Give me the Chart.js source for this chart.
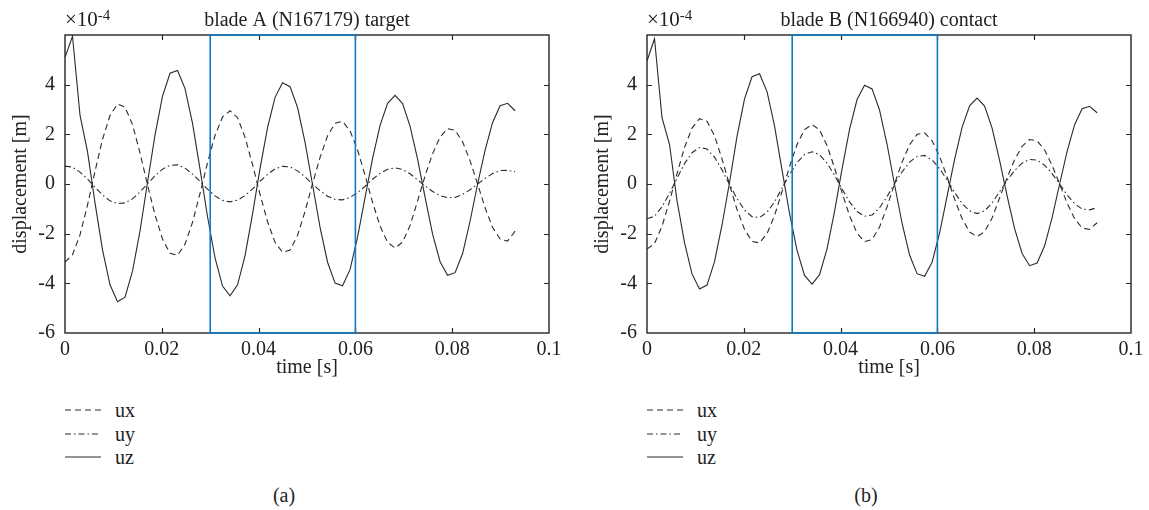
<!DOCTYPE html>
<html><head><meta charset="utf-8">
<script src="https://cdn.jsdelivr.net/npm/chart.js@4.4.1/dist/chart.umd.min.js"></script>
<style>
body{margin:0;background:#fff;width:1149px;height:510px;position:relative;overflow:hidden;font-family:"Liberation Serif","Times New Roman",serif;color:#222}
.wrap{position:absolute;top:0;width:575px;height:380px}
.row{position:absolute;height:24px;width:120px;font-size:20px;line-height:24px}
.row svg{position:absolute;left:0;top:10px}
.row span{position:absolute;left:50px;top:0}
.cap{position:absolute;font-size:20px;line-height:24px;transform:translateX(-50%)}
</style></head><body>
<div class="wrap" style="left:0"><canvas id="ca"></canvas></div>
<div class="wrap" style="left:582px"><canvas id="cb"></canvas></div>
<div id="legends"></div>
<div class="cap" style="left:284px;top:483px">(a)</div>
<div class="cap" style="left:866px;top:483px">(b)</div>
<script>
// ---- data (values ×10^-4 m) ----
const time = [0,0.00155,0.0031,0.00465,0.0062,0.00775,0.0093,0.01085,0.0124,0.01395,0.0155,0.01705,0.0186,0.02015,0.0217,0.02325,0.0248,0.02635,0.0279,0.02945,0.031,0.03255,0.0341,0.03565,0.0372,0.03875,0.0403,0.04185,0.0434,0.04495,0.0465,0.04805,0.0496,0.05115,0.0527,0.05425,0.0558,0.05735,0.0589,0.06045,0.062,0.06355,0.0651,0.06665,0.0682,0.06975,0.0713,0.07285,0.0744,0.07595,0.0775,0.07905,0.0806,0.08215,0.0837,0.08525,0.0868,0.08835,0.0899,0.09145,0.093];

const uxA = [-3.15,-2.85,-2.05,-0.85,0.51,1.80,2.76,3.22,3.10,2.39,1.25,-0.04,-1.24,-2.22,-2.79,-2.87,-2.42,-1.54,-0.38,0.86,1.96,2.70,2.95,2.67,1.88,0.78,-0.42,-1.52,-2.35,-2.75,-2.66,-2.07,-1.10,0.02,1.07,1.94,2.45,2.52,2.14,1.37,0.35,-0.74,-1.70,-2.35,-2.58,-2.34,-1.67,-0.68,0.33,1.22,1.89,2.23,2.16,1.70,0.93,0.00,-0.96,-1.75,-2.22,-2.30,-1.90];
const uyA = [0.72,0.68,0.48,0.20,-0.13,-0.44,-0.68,-0.79,-0.76,-0.60,-0.32,0.01,0.33,0.60,0.75,0.77,0.64,0.40,0.10,-0.21,-0.48,-0.66,-0.72,-0.65,-0.47,-0.20,0.11,0.39,0.61,0.71,0.69,0.53,0.29,-0.01,-0.27,-0.49,-0.62,-0.64,-0.54,-0.35,-0.09,0.19,0.43,0.59,0.65,0.59,0.41,0.17,-0.08,-0.30,-0.47,-0.55,-0.54,-0.42,-0.23,0.00,0.23,0.42,0.54,0.55,0.50];
const uzA = [5.10,5.95,2.77,1.30,-0.76,-2.65,-4.06,-4.74,-4.56,-3.51,-1.89,0.06,1.98,3.54,4.46,4.57,3.84,2.44,0.60,-1.32,-2.98,-4.11,-4.50,-4.06,-2.88,-1.20,0.63,2.27,3.49,4.08,3.92,3.08,1.68,-0.03,-1.75,-3.15,-3.99,-4.10,-3.44,-2.14,-0.54,1.03,2.36,3.25,3.57,3.24,2.32,1.00,-0.54,-2.02,-3.13,-3.68,-3.57,-2.80,-1.49,0.00,1.36,2.48,3.15,3.25,2.95];

const uxB = [-2.62,-2.40,-1.70,-0.70,0.42,1.47,2.25,2.63,2.53,1.94,1.01,-0.03,-1.03,-1.83,-2.31,-2.37,-2.00,-1.27,-0.31,0.70,1.59,2.19,2.40,2.17,1.55,0.65,-0.35,-1.28,-1.98,-2.32,-2.24,-1.73,-0.92,0.01,0.88,1.58,2.00,2.06,1.74,1.11,0.29,-0.61,-1.39,-1.93,-2.12,-1.92,-1.37,-0.56,0.26,0.98,1.52,1.79,1.74,1.37,0.75,0.00,-0.77,-1.40,-1.77,-1.83,-1.56];
const uyB = [-1.40,-1.30,-0.92,-0.38,0.23,0.82,1.26,1.47,1.41,1.08,0.57,-0.02,-0.59,-1.05,-1.32,-1.35,-1.14,-0.72,-0.17,0.38,0.86,1.19,1.30,1.18,0.84,0.35,-0.20,-0.72,-1.11,-1.30,-1.25,-0.96,-0.51,0.01,0.49,0.88,1.11,1.15,0.97,0.62,0.16,-0.34,-0.78,-1.08,-1.19,-1.08,-0.76,-0.31,0.15,0.54,0.84,0.99,0.96,0.76,0.42,0.00,-0.44,-0.79,-1.01,-1.04,-0.95];
const uzB = [4.95,5.85,2.67,1.60,-0.67,-2.36,-3.62,-4.23,-4.07,-3.13,-1.65,0.06,1.92,3.43,4.32,4.44,3.72,2.34,0.56,-1.18,-2.67,-3.68,-4.03,-3.65,-2.61,-1.10,0.61,2.20,3.40,3.98,3.83,2.97,1.60,-0.03,-1.58,-2.86,-3.61,-3.72,-3.15,-1.98,-0.50,0.99,2.28,3.15,3.46,3.14,2.25,0.95,-0.48,-1.80,-2.80,-3.29,-3.18,-2.49,-1.35,0.00,1.31,2.39,3.03,3.13,2.87];

const seriesNames = ['ux','uy','uz'];
const xTicks = [0,0.02,0.04,0.06,0.08,0.1];
const yTicks = [-6,-4,-2,0,2,4];
const xRange = [0,0.1];
const yRange = [-6,6];
const windowRange = [0.03,0.06];
const titles = ['blade A (N167179) target','blade B (N166940) contact'];

// ---- styling ----
const FONT = '"Liberation Serif","Times New Roman",serif';
const INK = '#222';
const LINE = '#2a2a2a';
const dashes = [[6,4],[6,3,1.5,3],[]];

const framePlugin = {
  id:'frame',
  afterDatasetsDraw(chart, args, opts){
    const ctx = chart.ctx, a = chart.chartArea, x = chart.scales.x, y = chart.scales.y;
    ctx.save();
    ctx.strokeStyle = '#262626'; ctx.lineWidth = 1.4; ctx.setLineDash([]);
    ctx.strokeRect(a.left, a.top, a.right - a.left, a.bottom - a.top);
    ctx.lineWidth = 1.2;
    ctx.beginPath();
    xTicks.forEach(v => {
      if (v <= xRange[0] || v >= xRange[1]) return;
      const p = Math.round(x.getPixelForValue(v)) + 0.5;
      ctx.moveTo(p, a.bottom); ctx.lineTo(p, a.bottom - 5);
      ctx.moveTo(p, a.top); ctx.lineTo(p, a.top + 5);
    });
    yTicks.forEach(v => {
      if (v <= yRange[0] || v >= yRange[1]) return;
      const p = Math.round(y.getPixelForValue(v)) + 0.5;
      ctx.moveTo(a.left, p); ctx.lineTo(a.left + 5, p);
      ctx.moveTo(a.right, p); ctx.lineTo(a.right - 5, p);
    });
    ctx.stroke();
    // highlighted window
    const x0 = x.getPixelForValue(windowRange[0]), x1 = x.getPixelForValue(windowRange[1]);
    ctx.strokeStyle = '#0f7bc4'; ctx.lineWidth = 1.6;
    ctx.strokeRect(x0, a.top, x1 - x0, a.bottom - a.top);
    // title & exponent
    ctx.fillStyle = INK; ctx.textBaseline = 'alphabetic';
    ctx.font = '20px ' + FONT; ctx.textAlign = 'center';
    ctx.fillText(opts.title, (a.left + a.right) / 2, 26);
    ctx.textAlign = 'left';
    ctx.font = '21px ' + FONT;
    ctx.fillText('\u00d710', a.left, 26);
    const w = ctx.measureText('\u00d710').width;
    ctx.font = '15px ' + FONT;
    ctx.fillText('-4', a.left + w, 20);
    ctx.restore();
  }
};

function pts(arr){ return time.map((t,i)=>({x:t, y:arr[i]})); }

function makeChart(id, series, title){
  return new Chart(document.getElementById(id), {
    type:'line',
    data:{datasets: series.map((s,i)=>({
      label: seriesNames[i], data: pts(s), borderColor: LINE, borderWidth: 1.1,
      borderDash: dashes[i], pointRadius: 0, tension: 0, fill: false
    }))},
    options:{
      responsive:true, maintainAspectRatio:false, animation:false,
      layout:{padding:{top:35,right:26,left:0,bottom:0}},
      plugins:{legend:{display:false}, tooltip:{enabled:false}, frame:{title}},
      scales:{
        x:{type:'linear', min:xRange[0], max:xRange[1],
           grid:{display:false, drawTicks:false}, border:{display:false},
           afterBuildTicks: s => { s.ticks = xTicks.map(v=>({value:v})); },
           afterFit: s => { s.height = 47; },
           ticks:{padding:5, color:INK, font:{family:FONT, size:20}, maxRotation:0, autoSkip:false,
                  callback: v => (v === 0 ? '0' : String(v))},
           title:{display:true, text:'time [s]', color:INK, font:{family:FONT, size:20}, padding:{top:0,bottom:0}}},
        y:{type:'linear', min:yRange[0], max:yRange[1],
           grid:{display:false, drawTicks:false}, border:{display:false},
           afterBuildTicks: s => { s.ticks = yTicks.map(v=>({value:v})); },
           afterFit: s => { s.width = 65; },
           ticks:{padding:10, color:INK, font:{family:FONT, size:20}, autoSkip:false,
                  callback: v => String(v)},
           title:{display:true, text:'displacement [m]', color:INK, font:{family:FONT, size:20}, padding:{top:9,bottom:0}}}
      }
    },
    plugins:[framePlugin]
  });
}

makeChart('ca', [uxA, uyA, uzA], titles[0]);
makeChart('cb', [uxB, uyB, uzB], titles[1]);

// ---- legends ----
const legWrap = document.getElementById('legends');
[65, 647].forEach(left => {
  seriesNames.forEach((name, i) => {
    const row = document.createElement('div');
    row.className = 'row';
    row.style.left = left + 'px';
    row.style.top = (398 + i * 23.5) + 'px';
    const da = dashes[i].length ? dashes[i].join(',') : 'none';
    row.innerHTML = '<svg width="36" height="4"><line x1="0" y1="2" x2="36" y2="2" stroke="' + LINE +
      '" stroke-width="1.2" stroke-dasharray="' + da + '"/></svg><span>' + name + '</span>';
    legWrap.appendChild(row);
  });
});
</script>
</body></html>
